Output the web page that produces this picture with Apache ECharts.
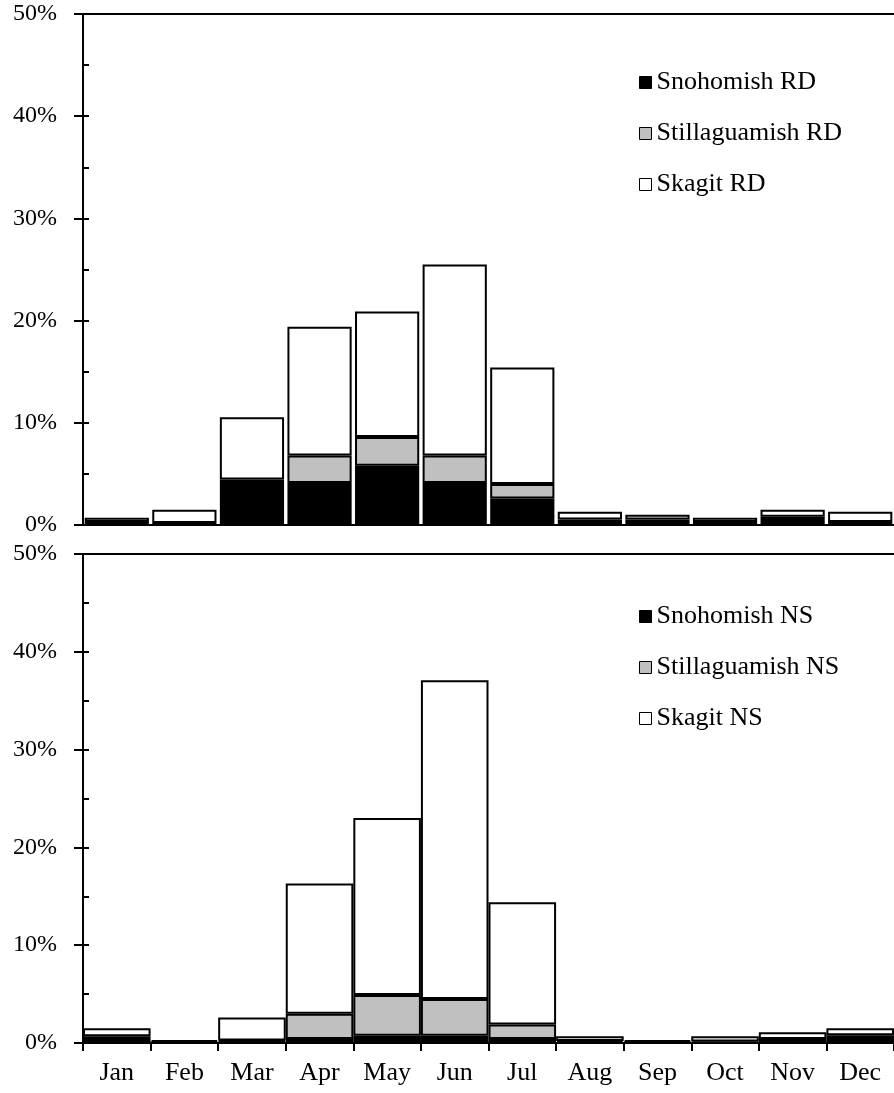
<!DOCTYPE html>
<html>
<head>
<meta charset="utf-8">
<script src="https://cdn.jsdelivr.net/npm/echarts@6/dist/echarts.min.js"></script>
<style>
  html, body { margin: 0; padding: 0; background: #fff; }
  #chart { width: 894px; height: 1093px; }
</style>
</head>
<body>
<div id="chart"></div>
<script>
// month categories
var months = ['Jan', 'Feb', 'Mar', 'Apr', 'May', 'Jun', 'Jul', 'Aug', 'Sep', 'Oct', 'Nov', 'Dec'];

// top panel (RD), percent
var rdSnohomish     = [0.3, 0.2, 4.1, 4.1, 5.8, 4.1, 2.6, 0.55, 0.55, 0.3, 0.8, 0.3];
var rdStillaguamish = [0, 0, 0.35, 2.7, 2.8, 2.7, 1.4, 0, 0, 0, 0, 0];
var rdSkagit        = [0.4, 1.3, 6.1, 12.6, 12.3, 18.7, 11.4, 0.75, 0.45, 0.4, 0.7, 1.0];

// bottom panel (NS), percent
var nsSnohomish     = [0.4, 0.1, 0.15, 0.4, 0.75, 0.75, 0.4, 0.2, 0.1, 0.15, 0.4, 0.5];
var nsStillaguamish = [0.3, 0, 0.1, 2.6, 4.15, 3.75, 1.5, 0, 0, 0, 0, 0.3];
var nsSkagit        = [0.8, 0.2, 2.35, 13.3, 18.1, 32.6, 12.5, 0.5, 0.2, 0.55, 0.7, 0.7];

var fontFam = '"Liberation Serif", "DejaVu Serif", serif';
var colors = { snoh: '#000000', still: '#c0c0c0', skagit: '#ffffff' };

function xAxes(grid, showLabels) {
	return [
		{
			type: 'category', gridIndex: grid, position: 'bottom', data: months,
			axisLine: { show: true, onZero: false, lineStyle: { color: '#000', width: 2 } },
			axisTick: { show: showLabels, length: 8, lineStyle: { color: '#000', width: 2 } },
			axisLabel: { show: showLabels, margin: 17, color: '#000', fontFamily: fontFam, fontSize: 26 },
			splitLine: { show: false }
		},
		{
			// top border line
			type: 'category', gridIndex: grid, position: 'top', data: months,
			axisLine: { show: true, onZero: false, lineStyle: { color: '#000', width: 2 } },
			axisTick: { show: false },
			axisLabel: { show: false }
		}
	];
}

function yAxes(grid) {
	return [
		{
			type: 'value', gridIndex: grid, position: 'left', min: 0, max: 50, interval: 10,
			axisLine: { show: true, lineStyle: { color: '#000', width: 2 } },
			axisTick: { show: true, length: 9, lineStyle: { color: '#000', width: 2 } },
			axisLabel: { margin: 26, formatter: '{value}%', color: '#000', fontFamily: fontFam, fontSize: 24 },
			splitLine: { show: false }
		},
		{
			// inside ticks every 5%
			type: 'value', gridIndex: grid, position: 'left', min: 0, max: 50, interval: 5,
			axisLine: { show: false },
			axisTick: { show: true, inside: true, length: 6, lineStyle: { color: '#000', width: 2 } },
			axisLabel: { show: false },
			splitLine: { show: false }
		}
	];
}

function bars(name, data, color, grid, gap) {
	return {
		name: name, type: 'bar', stack: 'g' + grid,
		// empty segments are not drawn
		data: data.map(function (v) { return v === 0 ? null : v; }),
		xAxisIndex: grid * 2, yAxisIndex: grid * 2,
		barCategoryGap: gap,
		itemStyle: { color: color, borderColor: '#000', borderWidth: 2 },
		emphasis: { disabled: true },
		animation: false
	};
}

function legend(names, top) {
	return {
		orient: 'vertical', left: 634, top: top,
		data: names, icon: 'rect', itemWidth: 12, itemHeight: 12, itemGap: 24,
		itemStyle: { borderColor: '#000', borderWidth: 1 },
		textStyle: { color: '#000', fontFamily: fontFam, fontSize: 26, lineHeight: 27 },
		selectedMode: false
	};
}

var chart = echarts.init(document.getElementById('chart'));
chart.setOption({
	backgroundColor: '#fff',
	animation: false,
	grid: [
		{ left: 83, right: 0, top: 14, height: 511 },
		{ left: 83, right: 0, top: 554, height: 489 }
	],
	legend: [
		legend(['Snohomish RD', 'Stillaguamish RD', 'Skagit RD'], 64),
		legend(['Snohomish NS', 'Stillaguamish NS', 'Skagit NS'], 598)
	],
	xAxis: xAxes(0, false).concat(xAxes(1, true)),
	yAxis: yAxes(0).concat(yAxes(1)),
	series: [
		bars('Snohomish RD', rdSnohomish, colors.snoh, 0, '5%'),
		bars('Stillaguamish RD', rdStillaguamish, colors.still, 0, '5%'),
		bars('Skagit RD', rdSkagit, colors.skagit, 0, '5%'),
		bars('Snohomish NS', nsSnohomish, colors.snoh, 1, '0%'),
		bars('Stillaguamish NS', nsStillaguamish, colors.still, 1, '0%'),
		bars('Skagit NS', nsSkagit, colors.skagit, 1, '0%')
	]
});
</script>
</body>
</html>
